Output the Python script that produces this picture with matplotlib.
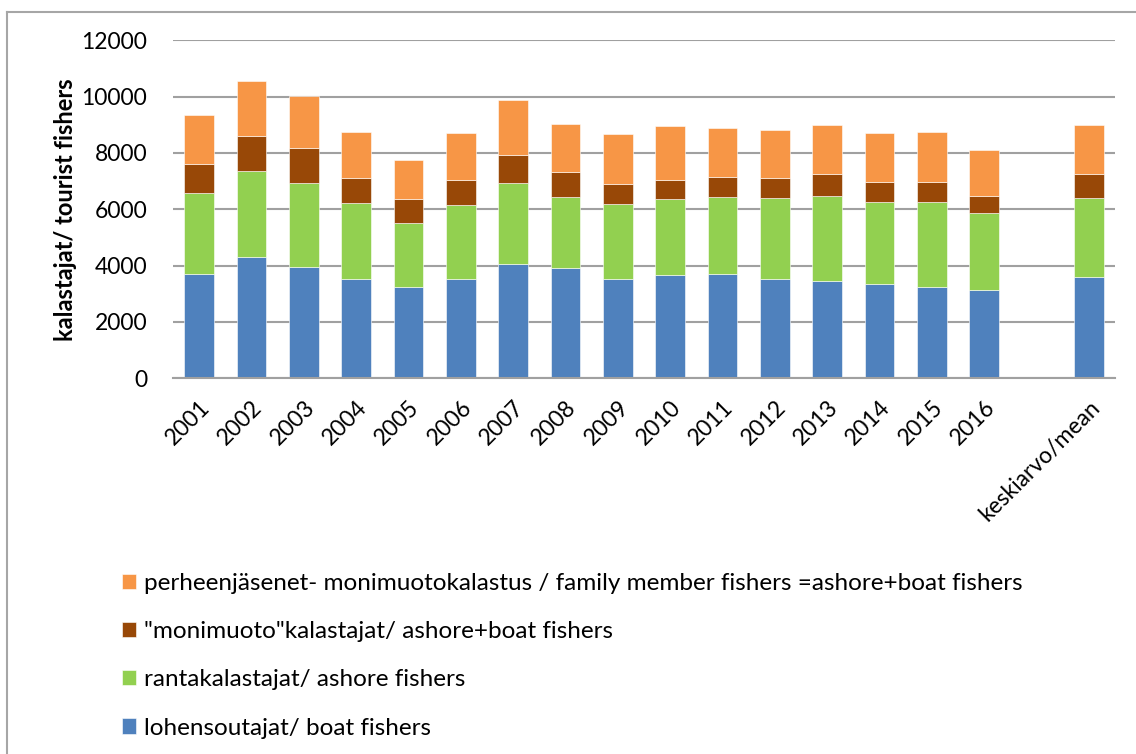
import matplotlib
matplotlib.use("Agg")
import matplotlib.pyplot as plt
from matplotlib.lines import Line2D
import numpy as np

# Kategoriat (tyhjä väli ennen keskiarvoa)
categories = ["2001", "2002", "2003", "2004", "2005", "2006", "2007", "2008",
              "2009", "2010", "2011", "2012", "2013", "2014", "2015", "2016",
              "", "keskiarvo/mean"]

# Sarjat (alhaalta ylös)
boat = [3720, 4320, 3960, 3540, 3240, 3540, 4050, 3900, 3540, 3680, 3690,
        3540, 3440, 3340, 3240, 3150, 0, 3610]
ashore = [2850, 3050, 2970, 2690, 2280, 2600, 2880, 2520, 2640, 2690, 2750,
          2850, 3040, 2920, 3010, 2730, 0, 2790]
multi = [1050, 1240, 1230, 880, 840, 890, 990, 910, 730, 660, 690,
         730, 770, 700, 710, 600, 0, 840]
family = [1730, 1930, 1860, 1650, 1400, 1690, 1950, 1690, 1750, 1920, 1760,
          1690, 1740, 1750, 1790, 1620, 0, 1750]

series_names = [
    "lohensoutajat/ boat fishers",
    "rantakalastajat/ ashore fishers",
    "\"monimuoto\"kalastajat/ ashore+boat fishers",
    "perheenjäsenet- monimuotokalastus / family member fishers =ashore+boat fishers",
]
colors = ["#4F81BD", "#92D050", "#984807", "#F79646"]

plt.rcParams['font.family'] = ['Lato', 'DejaVu Sans']

fig = plt.figure(figsize=(11.36, 7.54), dpi=100)
ax = fig.add_axes([173 / 1136, 1 - 378.3 / 754, (1115 - 173) / 1136, (378.3 - 40.3) / 754])

x = np.arange(len(categories))
bottom = np.zeros(len(categories))
handles = []
for vals, name, col in zip([boat, ashore, multi, family], series_names, colors):
    b = ax.bar(x, vals, width=0.57, bottom=bottom, color=col, label=name,
               edgecolor="white", linewidth=0.4)
    handles.append(b)
    bottom += np.array(vals)

ax.set_xlim(-0.5, len(categories) - 0.5)
ax.set_ylim(0, 12000)
ax.set_yticks(range(0, 12001, 2000))
ax.yaxis.grid(True, color="#a0a0a0", linewidth=1.5)
ax.set_axisbelow(True)
for s in ["top", "right", "left"]:
    ax.spines[s].set_visible(False)
ax.spines["bottom"].set_color("#a0a0a0")
ax.spines["bottom"].set_linewidth(1.5)
ax.tick_params(axis="both", length=0, labelsize=16.5)
ax.tick_params(axis="y", pad=18.5)
ax.set_xticks(x)
ax.set_xticklabels(categories, rotation=45, ha="right", rotation_mode="anchor")
ax.tick_params(axis="x", pad=13)
ax.set_ylabel("kalastajat/ tourist fishers", fontsize=17, fontweight="bold", labelpad=3)

# legenda käänteisessä järjestyksessä
leg = fig.legend(handles[::-1], series_names[::-1], loc="upper left",
                 bbox_to_anchor=(100 / 1136, 1 - 551 / 754), frameon=False,
                 fontsize=17.5, handlelength=0.6, handleheight=0.6,
                 handletextpad=0.3, labelspacing=1.12)

# kaavion reunaviiva
fig.add_artist(Line2D([7 / 1136, 7 / 1136], [0, 1 - 12 / 754], color="#a6a6a6", linewidth=1.5))
fig.add_artist(Line2D([7 / 1136, 1], [1 - 12 / 754, 1 - 12 / 754], color="#a6a6a6", linewidth=1.5))

fig.savefig("out.png", dpi=100)
